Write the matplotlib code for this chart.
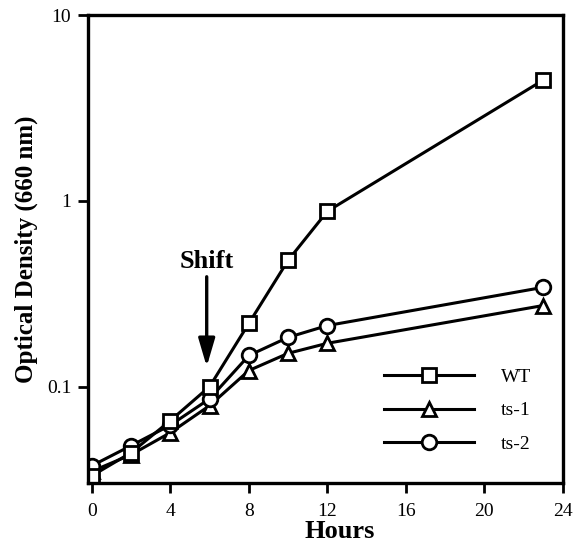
import matplotlib.pyplot as plt
from matplotlib.lines import Line2D

plt.rcParams['font.family'] = ['Liberation Serif', 'DejaVu Serif']

# Culture growth after temperature shift
hours = [0, 2, 4, 6, 8, 10, 12, 23]
wt = [0.0331, 0.0441, 0.0656, 0.100, 0.219, 0.478, 0.878, 4.46]
ts1 = [0.0350, 0.0430, 0.0565, 0.079, 0.122, 0.151, 0.171, 0.273]
ts2 = [0.0375, 0.0481, 0.0620, 0.086, 0.147, 0.184, 0.213, 0.342]
xticks = [0, 4, 8, 12, 16, 20, 24]
yticks = [0.1, 1, 10]
ytick_labels = ['0.1', '1', '10']

fig = plt.figure(figsize=(5.79, 5.56), dpi=100)
ax = fig.add_axes([0.152, 0.131, 0.820, 0.842])

style = dict(color='black', lw=2.2, markersize=10.5, markerfacecolor='white',
             markeredgecolor='black', markeredgewidth=2)
ax.plot(hours, ts1, marker='^', **style)
ax.plot(hours, ts2, marker='o', **style)
ax.plot(hours, wt, marker='s', **style)

ax.set_yscale('log')
ax.set_xlim(-0.2, 24)
ax.set_ylim(0.0302, 10)
ax.set_xticks(xticks)
ax.set_yticks(yticks)
ax.set_yticklabels(ytick_labels)
ax.minorticks_off()
ax.tick_params(direction='out', length=7, width=2, labelsize=14, pad=5)
ax.tick_params(axis='x', pad=7)

for s in ax.spines.values():
    s.set_linewidth(2.4)

ax.set_xlabel('Hours', fontsize=19, fontweight='bold')
ax.xaxis.set_label_coords(0.53, -0.078)
ax.set_ylabel('Optical Density (660 nm)', fontsize=18, fontweight='bold')
ax.yaxis.set_label_coords(-0.105, 0.5)

# temperature shift marker
ax.text(5.85, 0.47, 'Shift', ha='center', va='center', fontsize=19, fontweight='bold')
ax.annotate('', xy=(5.85, 0.128), xytext=(5.85, 0.39),
            arrowprops=dict(arrowstyle='-|>,head_length=1.7,head_width=0.5',
                            color='black', lw=2.4, shrinkA=0, shrinkB=0))

handles = [
    Line2D([], [], marker='s', **style),
    Line2D([], [], marker='^', **style),
    Line2D([], [], marker='o', **style),
]
ax.legend(handles, ['WT', 'ts-1', 'ts-2'], loc='lower right',
          bbox_to_anchor=(0.97, 0.028), frameon=False, fontsize=14,
          handlelength=4.6, handletextpad=1.4, labelspacing=0.8)

fig.savefig('out.png', dpi=100)
